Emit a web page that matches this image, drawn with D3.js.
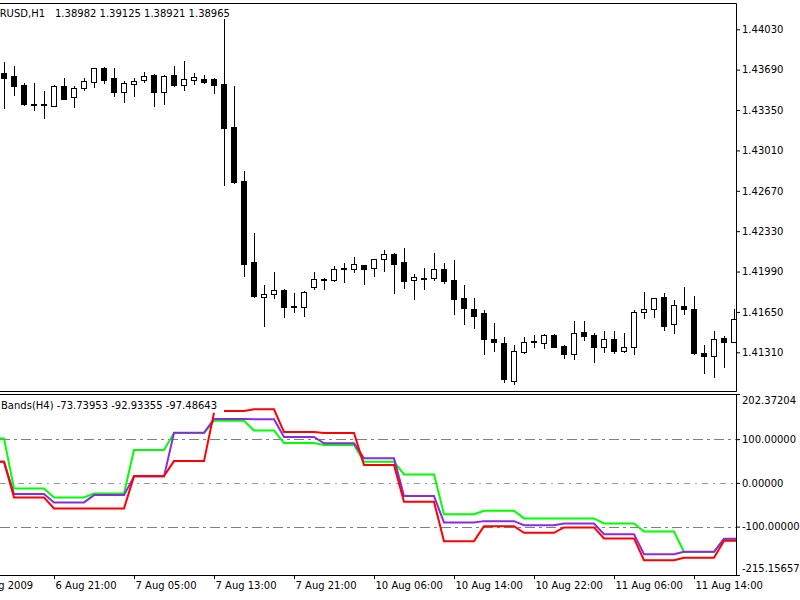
<!DOCTYPE html>
<html>
<head>
<meta charset="utf-8">
<script src="https://cdn.jsdelivr.net/npm/d3@7"></script>
<style>
  body { margin: 0; background: #fff; }
  svg { display: block; font-family: 'DejaVu Sans', sans-serif; font-size: 10px; }
</style>
</head>
<body>
<svg id="chart" width="800" height="600"></svg>
<script>
const symbol = 'EURUSD,H1'
const lastQuote = [1.38982, 1.39125, 1.38921, 1.38965]
const bandsName = 'Bands(H4)'
const bandsLast = [-73.73953, -92.93355, -97.48643]

// H1 candles, left to right
const opens = [
  1.43659, 1.43637, 1.43561, 1.43405, 1.43398, 1.43387, 1.43555, 1.43457, 1.43538, 1.43589,
  1.43707, 1.43617, 1.43504, 1.43572, 1.43600, 1.43645, 1.43504, 1.43645, 1.43561, 1.43603,
  1.43609, 1.43611, 1.43567, 1.43210, 1.42753, 1.42068, 1.41778, 1.41801, 1.41835, 1.41704,
  1.41694, 1.41862, 1.41927, 1.41916, 1.42016, 1.42012, 1.42045, 1.42022, 1.42093, 1.42140,
  1.42068, 1.41916, 1.41936, 1.41933, 1.42012, 1.41919, 1.41765, 1.41675, 1.41638, 1.41422,
  1.41391, 1.41071, 1.41313, 1.41401, 1.41386, 1.41453, 1.41363, 1.41293, 1.41478, 1.41456,
  1.41352, 1.41425, 1.41324, 1.41357, 1.41652, 1.41675, 1.41773, 1.41546, 1.41700, 1.41677,
  1.41307, 1.41281, 1.41428, 1.41399
]
const highs = [
  1.43757, 1.43723, 1.43575, 1.43575, 1.43510, 1.43561, 1.43622, 1.43555, 1.43622, 1.43707,
  1.43715, 1.43702, 1.43597, 1.43622, 1.43668, 1.43651, 1.43643, 1.43723, 1.43763, 1.43659,
  1.43645, 1.43617, 1.44114, 1.43555, 1.42837, 1.42312, 1.41877, 1.41984, 1.41839, 1.41812,
  1.41822, 1.41984, 1.41938, 1.42039, 1.42060, 1.42110, 1.42045, 1.42096, 1.42174, 1.42149,
  1.42186, 1.41969, 1.42022, 1.42144, 1.42060, 1.42087, 1.41877, 1.41765, 1.41666, 1.41554,
  1.41436, 1.41371, 1.41441, 1.41456, 1.41464, 1.41464, 1.41371, 1.41574, 1.41574, 1.41475,
  1.41492, 1.41492, 1.41475, 1.41666, 1.41815, 1.41771, 1.41807, 1.41750, 1.41857, 1.41784,
  1.41371, 1.41489, 1.41447, 1.41675
]
const lows = [
  1.43370, 1.43477, 1.43392, 1.43350, 1.43286, 1.43380, 1.43439, 1.43378, 1.43519, 1.43547,
  1.43580, 1.43471, 1.43420, 1.43471, 1.43589, 1.43387, 1.43398, 1.43555, 1.43516, 1.43569,
  1.43575, 1.43491, 1.42719, 1.42733, 1.41955, 1.41778, 1.41534, 1.41765, 1.41610, 1.41649,
  1.41616, 1.41841, 1.41841, 1.41914, 1.41905, 1.41984, 1.41883, 1.41955, 1.41997, 1.41807,
  1.41854, 1.41756, 1.41841, 1.41919, 1.41891, 1.41632, 1.41546, 1.41512, 1.41293, 1.41324,
  1.41062, 1.41043, 1.41302, 1.41357, 1.41344, 1.41352, 1.41260, 1.41251, 1.41414, 1.41231,
  1.41315, 1.41302, 1.41315, 1.41293, 1.41596, 1.41610, 1.41498, 1.41470, 1.41630, 1.41296,
  1.41133, 1.41099, 1.41184, 1.41397
]
const closes = [
  1.43622, 1.43553, 1.43398, 1.43401, 1.43401, 1.43555, 1.43443, 1.43533, 1.43595, 1.43702,
  1.43600, 1.43504, 1.43575, 1.43595, 1.43637, 1.43504, 1.43639, 1.43561, 1.43609, 1.43631,
  1.43589, 1.43561, 1.43196, 1.42747, 1.42054, 1.41784, 1.41801, 1.41835, 1.41694, 1.41700,
  1.41820, 1.41927, 1.41916, 1.42012, 1.42012, 1.42051, 1.42012, 1.42096, 1.42140, 1.42051,
  1.41913, 1.41942, 1.41931, 1.42012, 1.41910, 1.41756, 1.41680, 1.41618, 1.41419, 1.41399,
  1.41083, 1.41324, 1.41399, 1.41397, 1.41453, 1.41357, 1.41293, 1.41475, 1.41447, 1.41352,
  1.41425, 1.41324, 1.41357, 1.41652, 1.41675, 1.41770, 1.41534, 1.41708, 1.41672, 1.41302,
  1.41281, 1.41422, 1.41399, 1.41590
]

const priceTicks = [1.44030, 1.43690, 1.43350, 1.43010, 1.42670, 1.42330, 1.41990, 1.41650, 1.41310]
const priceRange = [1.409757, 1.44243]

const timeLabels = ['6 Aug 2009', '6 Aug 21:00', '7 Aug 05:00', '7 Aug 13:00', '7 Aug 21:00',
  '10 Aug 06:00', '10 Aug 14:00', '10 Aug 22:00', '11 Aug 06:00', '11 Aug 14:00']
const timeBars = [-3, 5, 13, 21, 29, 37, 45, 53, 61, 69]

// H4 bands seen on the H1 bars; these start one bar left of the first candle
const bandsFirstBar = -1
const greenBand = [
  101.8, 101.8,
  -12.6, -12.6, -12.6, -12.6,  -33.2, -33.2, -33.2, -33.2,  -24.0, -24.0, -24.0, -24.0,
  75.1, 75.1, 75.1, 75.1,  114.0, 114.0, 114.0, 114.0,  142.1, 142.1, 142.1, 142.1,
  120.1, 120.1, 120.1,
  91.1, 91.1, 91.1, 91.1,  86.5, 86.5, 86.5, 86.5,  48.3, 48.3, 48.3, 48.3,
  19.5, 19.5, 19.5, 19.5,  -71.4, -71.4, -71.4, -71.4,  -63.8, -63.8, -63.8, -63.8,
  -81.2, -81.2, -81.2, -81.2,  -81.2, -81.2, -81.2, -81.2,  -92.7, -92.7, -92.7, -92.7,
  -111.0, -111.0, -111.0, -111.0,  -158.0, -158.0, -158.0, -158.0,
  -128.0, -128.0, -128.0
]
const purpleBand = [
  48.3, 48.3,
  -25.6, -25.6, -25.6, -25.6,  -44.6, -44.6, -44.6, -44.6,  -27.9, -27.9, -27.9, -27.9,
  14.4, 14.4, 14.4, 14.4,  114.6, 114.6, 114.6, 114.6,  146.0, 146.0, 146.0, 146.0,
  145.6, 145.6, 145.6,
  105.0, 105.0, 105.0, 105.0,  90.4, 90.4, 90.4, 90.4,  56.1, 56.1, 56.1, 56.1,
  -30.2, -30.2, -30.2, -30.2,  -90.4, -90.4, -90.4, -90.4,  -87.4, -87.4, -87.4, -87.4,
  -96.6, -96.6, -96.6, -96.6,  -92.7, -92.7, -92.7, -92.7,  -117.2, -117.2, -117.2, -117.2,
  -162.9, -162.9, -162.9, -162.9,  -157.7, -157.7, -157.7, -157.7,
  -127.5, -127.5, -127.5
]
const redBand = [
  48.3, 48.3,
  -33.2, -33.2, -33.2, -33.2,  -58.4, -58.4, -58.4, -58.4,  -58.4, -58.4, -58.4, -58.4,
  15.6, 15.6, 15.6, 15.6,  49.9, 49.9, 49.9, 49.9,  160.4, 164.3, 164.3, 164.3,
  168.2, 168.2, 168.2,
  116.2, 116.2, 116.2, 116.2,  114.0, 114.0, 114.0, 114.0,  40.7, 40.7, 40.7, 40.7,
  -43.2, -43.2, -43.2, -43.2,  -133.2, -133.2, -133.2, -133.2,  -98.9, -98.9, -98.9, -98.9,
  -114.2, -114.2, -114.2, -114.2,  -101.8, -101.8, -101.8, -101.8,  -127.0, -127.0, -127.0, -127.0,
  -176.7, -176.7, -176.7, -176.7,  -171.4, -171.4, -171.4, -171.4,
  -132.0, -132.0, -132.0
]
const redBreaks = [22]
const bandLevels = [100, 0, -100]
const bandRange = [-215.15657, 202.37204]

// layout
const plotRight = 736
const mainTop = 4
const mainBottom = 392
const bandTop = 395
const bandBottom = 575

const svg = d3.select('#chart')
const font = "'DejaVu Sans', sans-serif"

const x = d3.scaleLinear().domain([0, 73]).range([4, 734])
const y = d3.scaleLinear().domain(priceRange).range([mainBottom, mainTop])
const yb = d3.scaleLinear().domain(bandRange).range([577, 394.4])

const defs = svg.append('defs')
defs.append('clipPath').attr('id', 'clip-main')
  .append('rect')
    .attr('x', 0).attr('y', mainTop)
    .attr('width', plotRight).attr('height', mainBottom - mainTop)
defs.append('clipPath').attr('id', 'clip-bands')
  .append('rect')
    .attr('x', 0).attr('y', bandTop)
    .attr('width', plotRight).attr('height', bandBottom - bandTop)

// candles
const candles = opens.map((o, i) => ({i, o, h: highs[i], l: lows[i], c: closes[i]}))
const cg = svg.append('g').attr('clip-path', 'url(#clip-main)')

cg.append('g')
  .selectAll('line')
  .data(candles)
  .join('line')
    .attr('x1', d => x(d.i) + 0.5)
    .attr('x2', d => x(d.i) + 0.5)
    .attr('y1', d => Math.round(y(d.h)))
    .attr('y2', d => Math.round(y(d.l)) + 1)
    .attr('stroke', '#000')

cg.append('g')
  .selectAll('rect')
  .data(candles)
  .join('rect')
    .attr('x', d => x(d.i) - 2.5)
    .attr('width', 5)
    .attr('y', d => Math.round(y(Math.max(d.o, d.c))) + 0.5)
    .attr('height', d => Math.max(1, Math.round(y(Math.min(d.o, d.c))) - Math.round(y(Math.max(d.o, d.c)))))
    .attr('fill', d => d.c > d.o ? '#fff' : '#000')
    .attr('stroke', '#000')

// indicator panel
const bg = svg.append('g').attr('clip-path', 'url(#clip-bands)')

bg.append('g')
  .selectAll('line')
  .data(bandLevels)
  .join('line')
    .attr('x1', 0)
    .attr('x2', plotRight)
    .attr('y1', d => Math.round(yb(d)) + 0.5)
    .attr('y2', d => Math.round(yb(d)) + 0.5)
    .attr('stroke', d => d === 0 ? '#9a9a9a' : '#808080')
    .attr('stroke-dasharray', d => d === 0 ? '6,5,2,5' : '10,4,3,4')

const line = d3.line()
  .x(d => x(d.bar))
  .y(d => yb(d.v))

function segments (values, breaks) {
  const pts = values.map((v, k) => ({bar: k + bandsFirstBar, v}))
  const out = [[]]
  pts.forEach(p => {
    if (breaks.includes(p.bar)) out.push([])
    out[out.length - 1].push(p)
  })
  return out
}

const bandSeries = [
  {color: '#00ff00', segs: segments(greenBand, [])},
  {color: '#8a2be2', segs: segments(purpleBand, [])},
  {color: '#ff0000', segs: segments(redBand, redBreaks)}
]

bandSeries.forEach(s => {
  bg.append('g')
    .selectAll('path')
    .data(s.segs)
    .join('path')
      .attr('d', line)
      .attr('fill', 'none')
      .attr('stroke', s.color)
      .attr('stroke-width', 2)
      .attr('stroke-linejoin', 'miter')
})

// frames
const frame = svg.append('g').attr('stroke', '#000').attr('fill', 'none')
frame.append('path')
  .attr('d', `M0,${mainTop - 0.5}H${plotRight + 0.5}V${mainBottom - 0.5}H0`)
frame.append('path')
  .attr('d', `M0,${bandTop - 0.5}H${plotRight + 0.5}V${bandBottom + 0.5}H0`)

// price axis
svg.append('g')
  .attr('transform', `translate(${plotRight},0)`)
  .call(d3.axisRight(y).tickValues(priceTicks).tickSize(4).tickSizeOuter(0)
    .tickFormat(d => d.toFixed(5)))
  .call(g => g.select('.domain').remove())
  .call(g => g.selectAll('text').attr('x', 6).attr('font-family', font).attr('font-size', 10).attr('fill', '#000'))

// bands axis
svg.append('g')
  .attr('transform', `translate(${plotRight},0)`)
  .call(d3.axisRight(yb).tickValues(bandLevels).tickSize(4).tickSizeOuter(0)
    .tickFormat(d => d.toFixed(5)))
  .call(g => g.select('.domain').remove())
  .call(g => g.selectAll('text').attr('x', 6).attr('font-family', font).attr('font-size', 10).attr('fill', '#000'))

const ends = svg.append('g').attr('font-family', font).attr('font-size', 10)
ends.append('line')
  .attr('x1', plotRight).attr('x2', plotRight + 4)
  .attr('y1', bandTop - 0.5).attr('y2', bandTop - 0.5)
  .attr('stroke', '#000')
ends.append('line')
  .attr('x1', plotRight).attr('x2', plotRight + 4)
  .attr('y1', bandBottom + 0.5).attr('y2', bandBottom + 0.5)
  .attr('stroke', '#000')
ends.append('text')
  .attr('x', plotRight + 6)
  .attr('y', bandTop + 6)
  .attr('dy', '0.32em')
  .text(bandRange[1].toFixed(5))
ends.append('text')
  .attr('x', plotRight + 6)
  .attr('y', bandBottom - 6)
  .attr('dy', '0.32em')
  .text(bandRange[0].toFixed(5))

// time axis
svg.append('g')
  .attr('transform', `translate(0,${bandBottom})`)
  .call(d3.axisBottom(x).tickValues(timeBars).tickSize(4).tickSizeOuter(0)
    .tickFormat((d, i) => timeLabels[i]))
  .call(g => g.select('.domain').remove())
  .call(g => g.selectAll('text')
    .attr('x', 1)
    .attr('text-anchor', 'start')
    .attr('font-family', font)
    .attr('font-size', 10)
    .attr('fill', '#000'))

// captions
const cap = svg.append('g').attr('font-family', font).attr('font-size', 10).attr('fill', '#000')
cap.append('text').attr('x', -14).attr('y', 17).text(symbol)
cap.append('text').attr('x', 55).attr('y', 17).text(lastQuote.map(d => d.toFixed(5)).join(' '))
cap.append('text').attr('x', 1).attr('y', 409)
  .text(bandsName + ' ' + bandsLast.map(d => d.toFixed(5)).join(' '))
</script>
</body>
</html>
